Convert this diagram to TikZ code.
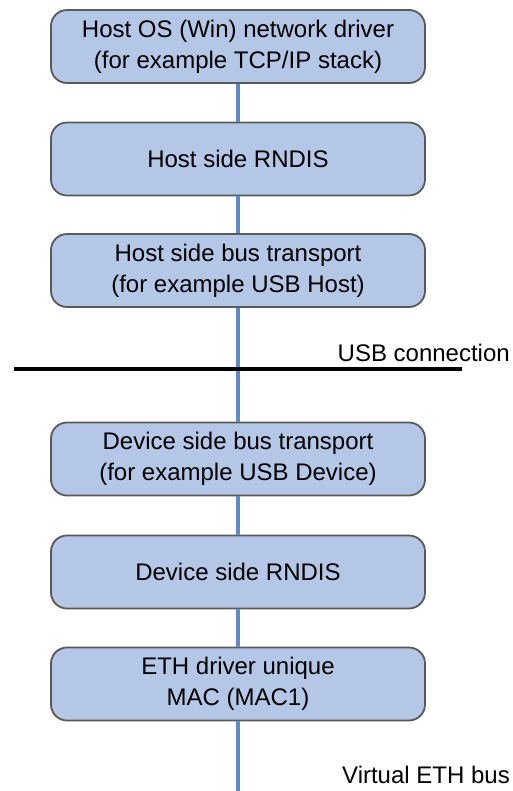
\documentclass[tikz,border=0pt]{standalone}
\usepackage{fontspec}
\setmainfont{Liberation Sans}
\usepackage{xcolor}
\usetikzlibrary{positioning}

\definecolor{layerfill}{HTML}{B4C7E7}
\definecolor{layerdraw}{HTML}{595959}
\definecolor{busblue}{HTML}{5B8BCB}

\begin{document}
\begin{tikzpicture}[x=1pt, y=-1pt,
    layer/.style={rectangle, rounded corners=16pt, draw=layerdraw, line width=1.8pt, fill=layerfill,
        minimum width=374pt, minimum height=73pt, align=center, inner sep=0pt,
        font=\fontsize{24}{31}\selectfont},
    bus/.style={draw=busblue, line width=3.4pt},
    lbl/.style={font=\fontsize{24}{31}\selectfont, inner sep=0pt, anchor=base east}
]
    \useasboundingbox (0,0) rectangle (513,791);

    % USB connection line
    \coordinate (usbL) at (14,369);
    \coordinate (usbR) at (462,369);
    \coordinate (busEnd) at (238,791);

    % Layers
    \node[layer] (hostos) at (238,46.5) {Host OS (Win) network driver\\(for example TCP/IP stack)};
    \node[layer] (hostrndis) at (238,159) {Host side RNDIS};
    \node[layer] (hostbus) at (238,270.5) {Host side bus transport\\(for example USB Host)};
    \node[layer] (devbus) at (238,459) {Device side bus transport\\(for example USB Device)};
    \node[layer] (devrndis) at (238,572) {Device side RNDIS};
    \node[layer] (ethdrv) at (238,684) {ETH driver unique\\MAC (MAC1)};

    % Bus between layers
    \draw[bus] (hostos) -- (hostrndis);
    \draw[bus] (hostrndis) -- (hostbus);
    \draw[bus] (hostbus) -- (devbus);
    \draw[bus] (devbus) -- (devrndis);
    \draw[bus] (devrndis) -- (ethdrv);
    \draw[bus] (ethdrv) -- (busEnd);

    \draw[black, line width=3.4pt] (usbL) -- (usbR);

    % Labels
    \node[lbl] (usblbl) at (510,361) {USB connection};
    \node[lbl] (buslbl) at (510,783) {Virtual ETH bus};
\end{tikzpicture}
\end{document}
